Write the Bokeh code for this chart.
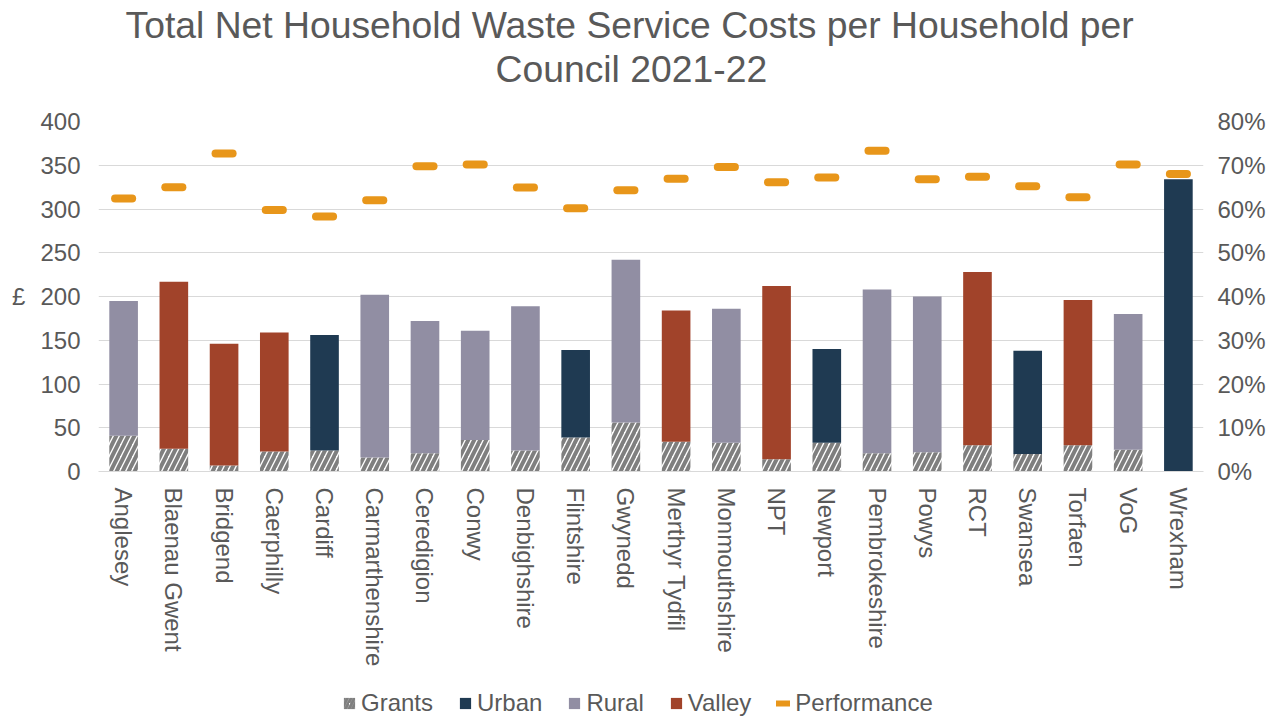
from math import pi
from bokeh.plotting import figure
from bokeh.layouts import column
from bokeh.models import (ColumnDataSource, Range1d, LinearAxis, FactorRange, FixedTicker,
                          NumeralTickFormatter, Legend, LegendItem, Title)
from bokeh.transform import dodge
from bokeh.embed import file_html
from bokeh.resources import INLINE

councils = ["Anglesey", "Blaenau Gwent", "Bridgend", "Caerphilly", "Cardiff", "Carmarthenshire",
            "Ceredigion", "Conwy", "Denbighshire", "Flintshire", "Gwynedd", "Merthyr Tydfil",
            "Monmouthshire", "NPT", "Newport", "Pembrokeshire", "Powys", "RCT", "Swansea",
            "Torfaen", "VoG", "Wrexham"]
council_type = ["Rural", "Valley", "Valley", "Valley", "Urban", "Rural",
                "Rural", "Rural", "Rural", "Urban", "Rural", "Valley",
                "Rural", "Valley", "Urban", "Rural", "Rural", "Valley", "Urban",
                "Valley", "Rural", "Urban"]
# £ per household funded by grants (hatched base of each bar)
grants = [41, 26, 7, 23, 24, 16, 21, 36, 24, 39, 56, 34, 33, 14, 33, 21, 22, 30, 20, 30, 25, 0]
# remaining net cost per household (stacked on top of grants)
net_costs = [154, 191, 139, 136, 132, 186, 151, 125, 165, 100, 186, 150, 153, 198, 107, 187, 178,
             198, 118, 166, 155, 334]
# recycling performance (right axis)
performance = [0.624, 0.650, 0.727, 0.598, 0.583, 0.620, 0.698, 0.702, 0.649, 0.602, 0.643,
               0.669, 0.696, 0.661, 0.672, 0.733, 0.668, 0.674, 0.652, 0.627, 0.702, 0.680]

left_ticks = [0, 50, 100, 150, 200, 250, 300, 350, 400]
right_ticks = [0, 0.1, 0.2, 0.3, 0.4, 0.5, 0.6, 0.7, 0.8]
title_lines = ["Total Net Household Waste Service Costs per Household per", "Council 2021-22"]
legend_labels = ["Grants", "Urban", "Rural", "Valley", "Performance"]

type_colors = {"Urban": "#1F3A52", "Rural": "#918EA3", "Valley": "#A1432A"}
perf_color = "#E8961A"
hatch_color = "#7F7F7F"
text_color = "#595959"
font = "Liberation Sans"
bar_w = 0.57

tops = [g + c for g, c in zip(grants, net_costs)]
src = ColumnDataSource(dict(council=councils, grants=grants, top=tops, perf=performance))

p = figure(x_range=FactorRange(factors=councils), y_range=Range1d(0, 400),
           frame_width=1105, frame_height=350, output_backend="svg", toolbar_location=None,
           min_border_left=98, min_border_right=82, min_border_top=121, min_border_bottom=215,
           title=None)
p.extra_y_ranges = {"pct": Range1d(0, 0.8)}
p.outline_line_color = None
p.background_fill_color = "white"
p.border_fill_color = "white"

# title: spacer nearest the frame, then the two centred lines
spacer = Title(text=" ", standoff=19, text_font=font, text_font_size="10px")
t2 = Title(text=title_lines[1], align="left", offset=397, standoff=0,
           text_font=font, text_font_size="37.3px", text_font_style="normal",
           text_color=text_color)
t1 = Title(text=title_lines[0], align="left", offset=27, standoff=0,
           text_font=font, text_font_size="37.3px", text_font_style="normal",
           text_color=text_color)
p.add_layout(spacer, "above")
p.add_layout(t2, "above")
p.add_layout(t1, "above")

p.vbar(x="council", top="grants", bottom=0, width=bar_w, source=src,
       fill_color="white", line_color=None, hatch_pattern="/",
       hatch_color=hatch_color, hatch_weight=4, hatch_scale=12)

for t in ["Urban", "Rural", "Valley"]:
    idx = [i for i, ct in enumerate(council_type) if ct == t]
    s = ColumnDataSource(dict(council=[councils[i] for i in idx],
                              grants=[grants[i] for i in idx],
                              top=[tops[i] for i in idx]))
    p.vbar(x="council", bottom="grants", top="top", width=bar_w, source=s,
           fill_color=type_colors[t], line_color=None)

p.segment(x0=dodge("council", -0.17, range=p.x_range), y0="perf",
          x1=dodge("council", 0.17, range=p.x_range), y1="perf",
          y_range_name="pct", source=src, line_color=perf_color,
          line_width=8, line_cap="round")

# left axis
ya = p.yaxis[0]
ya.ticker = FixedTicker(ticks=left_ticks)
ya.axis_label = "£"
ya.axis_label_orientation = "horizontal"
ya.axis_label_standoff = 12
ya.axis_label_text_font = font
ya.axis_label_text_font_size = "24px"
ya.axis_label_text_font_style = "normal"
ya.axis_label_text_color = text_color

ra = LinearAxis(y_range_name="pct", ticker=FixedTicker(ticks=right_ticks),
                formatter=NumeralTickFormatter(format="0%"))
p.add_layout(ra, "right")

for ax in [ya, ra]:
    ax.axis_line_color = None
    ax.major_tick_line_color = None
    ax.minor_tick_line_color = None
    ax.major_tick_out = 0
    ax.major_tick_in = 0
    ax.major_label_text_font = font
    ax.major_label_text_font_size = "24px"
    ax.major_label_text_color = text_color
ya.major_label_standoff = 18
ra.major_label_standoff = 14

xa = p.xaxis[0]
xa.axis_line_color = "#D9D9D9"
xa.axis_line_width = 1
xa.major_tick_line_color = None
xa.minor_tick_line_color = None
xa.major_tick_out = 0
xa.major_tick_in = 0
xa.major_label_orientation = -pi / 2
xa.major_label_standoff = 16
xa.major_label_text_font = font
xa.major_label_text_font_size = "24px"
xa.major_label_text_color = text_color

p.xgrid.grid_line_color = None
p.ygrid.grid_line_color = "#D9D9D9"
p.ygrid.grid_line_width = 1

# legend strip below the chart; key glyphs are off-frame proxies styled like the chart marks
lf = figure(width=1285, height=32, x_range=Range1d(0, 1), y_range=Range1d(0, 1),
            x_axis_location=None, y_axis_location=None, output_backend="svg",
            toolbar_location=None, min_border=0, title=None)
lf.outline_line_color = None
lf.grid.visible = False
off = dict(x=[-1], top=[-1])
k_grants = lf.vbar(x="x", top="top", bottom=-2, width=0.1, source=ColumnDataSource(off),
                   fill_color="white", line_color=None, hatch_pattern="/",
                   hatch_color=hatch_color, hatch_weight=3, hatch_scale=7)
k_types = [lf.vbar(x="x", top="top", bottom=-2, width=0.1, source=ColumnDataSource(off),
                   fill_color=type_colors[t], line_color=None)
           for t in ["Urban", "Rural", "Valley"]]
k_perf = lf.segment(x0=[-1], y0=[-1], x1=[-1], y1=[-1], line_color=perf_color, line_width=6,
                    line_cap="round")
keys = [k_grants] + k_types + [k_perf]
legend = Legend(items=[LegendItem(label=lab, renderers=[r]) for lab, r in zip(legend_labels, keys)],
                orientation="horizontal", location=(244, 1),
                glyph_width=14, glyph_height=14, label_standoff=5, spacing=25,
                padding=0, margin=0, border_line_color=None, background_fill_alpha=0,
                label_text_font=font, label_text_font_size="24px",
                label_text_color=text_color)
lf.add_layout(legend)

layout = column(p, lf, spacing=0)
open("out.html", "w").write(file_html(layout, INLINE))
